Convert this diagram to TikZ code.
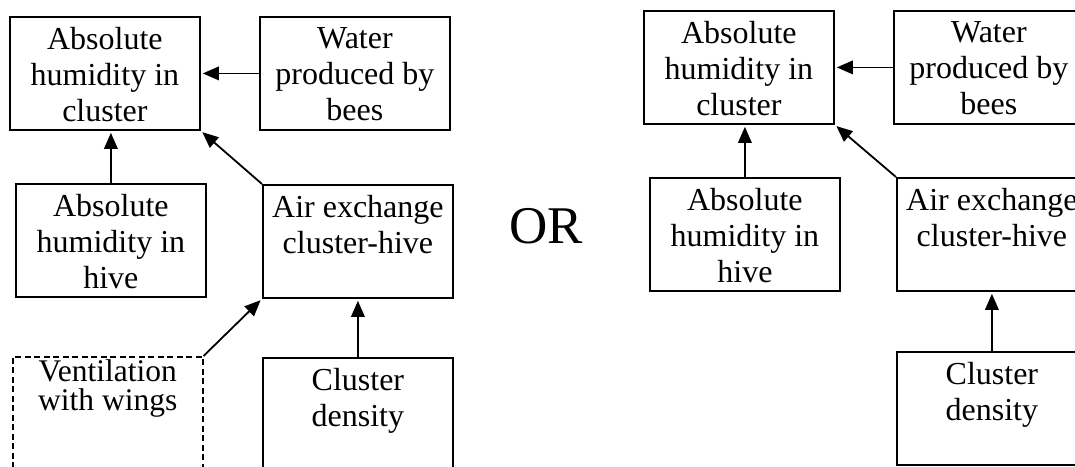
\documentclass[tikz,border=0pt]{standalone}
\usepackage{fontspec}
\setmainfont{Liberation Serif}
\usetikzlibrary{arrows.meta}

\tikzset{
  box/.style={draw, line width=1.8pt, anchor=north west, minimum width=190pt, minimum height=113pt, inner sep=0pt},
  dashbox/.style={box, line width=1.5pt, dash pattern=on 6pt off 3.5pt},
  boxtext/.style={anchor=north, align=center, inner sep=0pt, yshift=-11pt, font=\fontsize{32}{36}\selectfont},
  link/.style={line width=1.8pt, -{Triangle[length=16pt,width=13.5pt]}, shorten >=2pt},
}

\begin{document}
\begin{tikzpicture}[x=1pt,y=-1pt]
\useasboundingbox (0,0) rectangle (1075,466);
% left variant
\node[box] (hc) at (9,16) {};
\node[boxtext] (hc-t) at (hc.north) {Absolute\\humidity in\\cluster};
\node[box] (wb) at (259,16) {};
\node[boxtext] (wb-t) at (wb.north) {Water\\produced by\\bees};
\node[box] (hh) at (15,183) {};
\node[boxtext] (hh-t) at (hh.north) {Absolute\\humidity in\\hive};
\node[box] (ax) at (262,184) {};
\node[boxtext] (ax-t) at (ax.north) {Air exchange\\cluster-hive};
\node[dashbox] (vw) at (12,356) {};
\node[boxtext, yshift=8pt, font=\fontsize{31.5}{29}\selectfont] (vw-t) at (vw.north) {Ventilation\\with wings};
\node[box] (cd) at (262,357) {};
\node[boxtext] (cd-t) at (cd.north) {Cluster\\density};
\draw[link] (wb.west) -- (wb.west -| hc.east);
\draw[link] (hh.north) -- (hh.north |- hc.south);
\draw[link] (ax.north west) -- (hc.south east);
\draw[link] (vw.north east) -- (ax.south west);
\draw[link] (cd.north) -- (ax.south);

\node[anchor=base, inner sep=0pt, font=\fontsize{53}{60}\selectfont] (or) at (546,243) {OR};

% right variant
\node[box] (hcR) at (643,10) {};
\node[boxtext] (hcR-t) at (hcR.north) {Absolute\\humidity in\\cluster};
\node[box] (wbR) at (893,10) {};
\node[boxtext] (wbR-t) at (wbR.north) {Water\\produced by\\bees};
\node[box] (hhR) at (649,177) {};
\node[boxtext] (hhR-t) at (hhR.north) {Absolute\\humidity in\\hive};
\node[box] (axR) at (896,177) {};
\node[boxtext] (axR-t) at (axR.north) {Air exchange\\cluster-hive};
\node[box] (cdR) at (896,351) {};
\node[boxtext] (cdR-t) at (cdR.north) {Cluster\\density};
\draw[link] (wbR.west) -- (wbR.west -| hcR.east);
\draw[link] (hhR.north) -- (hhR.north |- hcR.south);
\draw[link] (axR.north west) -- (hcR.south east);
\draw[link] (cdR.north) -- (axR.south);
\end{tikzpicture}
\end{document}
